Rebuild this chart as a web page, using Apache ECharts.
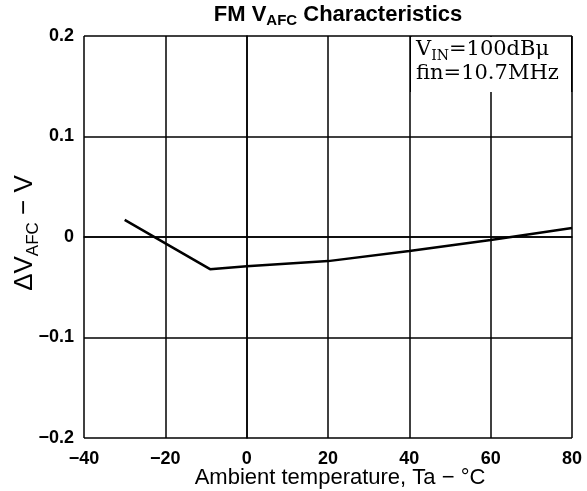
<!DOCTYPE html>
<html>
<head>
<meta charset="utf-8">
<script src="https://cdn.jsdelivr.net/npm/echarts@6/dist/echarts.min.js"></script>
<style>html,body{margin:0;padding:0;background:#fff}#c{width:587px;height:491px}</style>
</head>
<body>
<div id="c"></div>
<script>
// Data
var temperature = [-30, -9, 0, 20, 40, 60, 80];
var deltaVafc   = [0.017, -0.032, -0.029, -0.024, -0.014, -0.003, 0.009];
var xTicks = [-40, -20, 0, 20, 40, 60, 80];
var yTicks = [-0.2, -0.1, 0, 0.1, 0.2];

var chart = echarts.init(document.getElementById('c'), null, {renderer: 'canvas'});
var ff = '"Liberation Sans", Arial, Helvetica, sans-serif';
var serif = '"DejaVu Serif", "Liberation Serif", serif';
function minus(v){ return String(v).replace('-', '\u2212'); }

chart.setOption({
  animation: false,
  backgroundColor: '#fff',
  grid: {left: 84, right: 15, top: 36, bottom: 53, containLabel: false, outerBoundsMode: 'none'},
  xAxis: {
    type: 'value', min: -40, max: 80, interval: 20,
    name: 'Ambient temperature, Ta \u2212 \u00b0C',
    nameLocation: 'middle', nameGap: 29, nameMoveOverlap: false,
    nameTextStyle: {fontFamily: ff, fontSize: 22, color: '#000', padding: [0, 0, 0, 24]},
    axisLine: {show: true, lineStyle: {color: '#000', width: 1.5}},
    axisTick: {show: false},
    axisLabel: {
      margin: 12, color: '#000', fontFamily: ff, fontWeight: 'bold', fontSize: 18,
      formatter: function(v){ return xTicks.indexOf(v) >= 0 ? minus(v) : ''; }
    },
    splitLine: {show: true, lineStyle: {color: '#000', width: 1.5}}
  },
  yAxis: {
    type: 'value', min: -0.2, max: 0.2, interval: 0.1,
    name: '{a|\u0394V}{s|AFC}{a| \u2212 V}',
    nameLocation: 'middle', nameGap: 42, nameRotate: 90, nameMoveOverlap: false,
    nameTextStyle: {
      padding: [0, 0, 0, 8],
      rich: {
        a: {fontFamily: ff, fontSize: 26, color: '#000', lineHeight: 30, verticalAlign: 'top'},
        s: {fontFamily: ff, fontSize: 17, color: '#000', lineHeight: 20, verticalAlign: 'bottom'}
      }
    },
    axisLine: {show: true, lineStyle: {color: '#000', width: 1.5}},
    axisTick: {show: false},
    axisLabel: {
      margin: 10, color: '#000', fontFamily: ff, fontWeight: 'bold', fontSize: 18,
      formatter: function(v){
        var r = Math.round(v * 10) / 10;
        return yTicks.indexOf(r) >= 0 ? minus(r) : '';
      }
    },
    splitLine: {show: true, lineStyle: {color: '#000', width: 1.5}}
  },
  graphic: [
    {type: 'text', z: 101, x: 338, y: 4,
      style: {
        text: '{a|FM V}{s|AFC}{a| Characteristics}',
        align: 'center',
        rich: {
          a: {fontFamily: ff, fontWeight: 'bold', fontSize: 22, fill: '#000', lineHeight: 24, verticalAlign: 'top'},
          s: {fontFamily: ff, fontWeight: 'bold', fontSize: 15, fill: '#000', lineHeight: 16, verticalAlign: 'bottom'}
        }
      }
    },
    {type: 'rect', z: 100, shape: {x: 411, y: 37, width: 160, height: 55}, style: {fill: '#fff'}},
    {type: 'text', z: 101, left: 416, top: 39,
      style: {
        text: '{a|V}{s|IN}{a|=100dB\u03bc}',
        rich: {
          a: {fontFamily: serif, fontSize: 21, fill: '#000', lineHeight: 24, verticalAlign: 'top'},
          s: {fontFamily: serif, fontSize: 14, fill: '#000', lineHeight: 16, verticalAlign: 'bottom'}
        }
      }
    },
    {type: 'text', z: 101, left: 416, top: 63,
      style: {text: 'fin=10.7MHz', font: '21px ' + serif, fill: '#000'}
    },
    {type: 'rect', z: 99, shape: {x: 410, y: 36, width: 1.5, height: 56}, style: {fill: '#000'}},
    {type: 'rect', z: 99, shape: {x: 571, y: 36, width: 1.5, height: 56}, style: {fill: '#000'}}
  ],
  series: [{
    type: 'line',
    data: temperature.map(function(t, i){ return [t, deltaVafc[i]]; }),
    showSymbol: false, symbol: 'none',
    lineStyle: {color: '#000', width: 2.5},
    z: 10
  }]
});
</script>
</body>
</html>
